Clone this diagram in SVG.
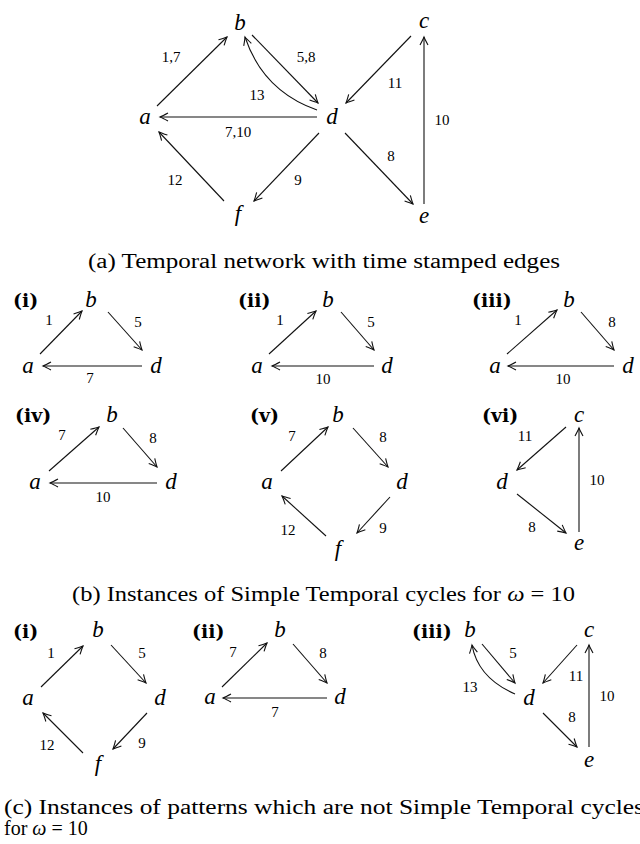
<svg xmlns="http://www.w3.org/2000/svg" width="640" height="844" viewBox="0 0 640 844">
<style>
.n{font-family:"Liberation Serif",serif;font-style:italic;font-size:23px;text-anchor:middle;fill:#000}
.l{font-family:"Liberation Serif",serif;font-size:15px;text-anchor:middle;fill:#000}
.t{font-family:"DejaVu Serif","Liberation Serif",serif;font-weight:bold;font-size:19px;fill:#000}
.c{font-family:"Liberation Serif",serif;font-size:20px;fill:#000}
.e{fill:none;stroke:#111;stroke-width:1.1;marker-end:url(#arr)}
</style>
<defs>
<marker id="arr" viewBox="-10 -6 12 12" refX="0" refY="0" markerWidth="12" markerHeight="12" orient="auto" markerUnits="userSpaceOnUse">
<path d="M-8,-4 Q-2.5,-1 0,0 Q-2.5,1 -8,4" fill="none" stroke="#111" stroke-width="1.1"/>
</marker>
</defs>
<rect width="640" height="844" fill="#fff"/>

<g id="connectors">
<!-- (a) -->
<path class="e" d="M157,106 L227,37"/>
<path class="e" d="M252,35 L318,103"/>
<path class="e" d="M317,110 Q263,91 245,37"/>
<path class="e" d="M317,117 L160,117"/>
<path class="e" d="M319,133 L254,201"/>
<path class="e" d="M224,201 L159,132"/>
<path class="e" d="M411,36 L346,103"/>
<path class="e" d="M345,133 L413,204"/>
<path class="e" d="M424,204 L424,37"/>
<!-- (b)(i) -->
<path class="e" d="M40,354 L82,311"/>
<path class="e" d="M108,312 L142,350"/>
<path class="e" d="M142,366 L43,366"/>
<!-- (b)(ii) -->
<path class="e" d="M269,354 L316,311"/>
<path class="e" d="M341,312 L374,350"/>
<path class="e" d="M374,366 L272,366"/>
<!-- (b)(iii) -->
<path class="e" d="M507,354 L557,310"/>
<path class="e" d="M581,312 L614,350"/>
<path class="e" d="M614,366 L508,366"/>
<!-- (b)(iv) -->
<path class="e" d="M49,471 L99,427"/>
<path class="e" d="M123,428 L157,467"/>
<path class="e" d="M157,483 L50,483"/>
<!-- (b)(v) -->
<path class="e" d="M281,471 L328,427"/>
<path class="e" d="M353,428 L388,467"/>
<path class="e" d="M390,497 L357,533"/>
<path class="e" d="M326,536 L282,496"/>
<!-- (b)(vi) -->
<path class="e" d="M566,427 L517,470"/>
<path class="e" d="M517,494 L566,533"/>
<path class="e" d="M579,532 L579,428"/>
<!-- (c)(i) -->
<path class="e" d="M41,687 L83,646"/>
<path class="e" d="M111,645 L146,683"/>
<path class="e" d="M147,713 L113,749"/>
<path class="e" d="M83,753 L43,713"/>
<!-- (c)(ii) -->
<path class="e" d="M222,687 L267,643"/>
<path class="e" d="M293,644 L327,683"/>
<path class="e" d="M327,698 L223,698"/>
<!-- (c)(iii) -->
<path class="e" d="M482,644 L515,683"/>
<path class="e" d="M515,694 Q478,678 472,645"/>
<path class="e" d="M577,645 L543,683"/>
<path class="e" d="M543,713 L577,747"/>
<path class="e" d="M589,747 L589,645"/>
</g>

<g id="edge-labels">
<text class="l" x="171" y="62">1,7</text>
<text class="l" x="306" y="62">5,8</text>
<text class="l" x="257" y="100">13</text>
<text class="l" x="238" y="137">7,10</text>
<text class="l" x="298" y="185">9</text>
<text class="l" x="175" y="185">12</text>
<text class="l" x="395" y="88">11</text>
<text class="l" x="391" y="161">8</text>
<text class="l" x="442" y="125">10</text>

<text class="l" x="49" y="325">1</text>
<text class="l" x="138" y="327">5</text>
<text class="l" x="90" y="383">7</text>
<text class="l" x="280" y="325">1</text>
<text class="l" x="371" y="327">5</text>
<text class="l" x="323" y="384">10</text>
<text class="l" x="518" y="325">1</text>
<text class="l" x="612" y="327">8</text>
<text class="l" x="563" y="384">10</text>

<text class="l" x="62" y="440">7</text>
<text class="l" x="153" y="443">8</text>
<text class="l" x="103" y="502">10</text>
<text class="l" x="292" y="441">7</text>
<text class="l" x="383" y="442">8</text>
<text class="l" x="288" y="535">12</text>
<text class="l" x="383" y="533">9</text>
<text class="l" x="525" y="441">11</text>
<text class="l" x="597" y="485">10</text>
<text class="l" x="532" y="532">8</text>

<text class="l" x="51" y="658">1</text>
<text class="l" x="142" y="658">5</text>
<text class="l" x="47" y="750">12</text>
<text class="l" x="142" y="748">9</text>
<text class="l" x="233" y="657">7</text>
<text class="l" x="323" y="658">8</text>
<text class="l" x="275" y="717">7</text>
<text class="l" x="513" y="658">5</text>
<text class="l" x="470" y="692">13</text>
<text class="l" x="576" y="681">11</text>
<text class="l" x="607" y="701">10</text>
<text class="l" x="572" y="722">8</text>
</g>

<!-- (a) nodes -->
<g id="a-a"><text class="n" x="145" y="124">a</text></g>
<g id="a-b"><text class="n" x="240" y="30">b</text></g>
<g id="a-c"><text class="n" x="424" y="28">c</text></g>
<g id="a-d"><text class="n" x="332" y="124">d</text></g>
<g id="a-e"><text class="n" x="424" y="223">e</text></g>
<g id="a-f"><text class="n" x="238" y="221">f</text></g>

<!-- (b)(i) -->
<g id="bi-tag"><text class="t" x="13" y="307">(i)</text></g>
<g id="bi-a"><text class="n" x="28" y="373">a</text></g>
<g id="bi-b"><text class="n" x="91" y="307">b</text></g>
<g id="bi-d"><text class="n" x="156" y="373">d</text></g>
<!-- (b)(ii) -->
<g id="bii-tag"><text class="t" x="238" y="307">(ii)</text></g>
<g id="bii-a"><text class="n" x="257" y="373">a</text></g>
<g id="bii-b"><text class="n" x="328" y="307">b</text></g>
<g id="bii-d"><text class="n" x="387" y="373">d</text></g>
<!-- (b)(iii) -->
<g id="biii-tag"><text class="t" x="472" y="307">(iii)</text></g>
<g id="biii-a"><text class="n" x="495" y="373">a</text></g>
<g id="biii-b"><text class="n" x="569" y="307">b</text></g>
<g id="biii-d"><text class="n" x="628" y="373">d</text></g>
<!-- (b)(iv) -->
<g id="biv-tag"><text class="t" x="15" y="422">(iv)</text></g>
<g id="biv-a"><text class="n" x="35" y="489">a</text></g>
<g id="biv-b"><text class="n" x="112" y="422">b</text></g>
<g id="biv-d"><text class="n" x="171" y="489">d</text></g>
<!-- (b)(v) -->
<g id="bv-tag"><text class="t" x="250" y="422">(v)</text></g>
<g id="bv-a"><text class="n" x="267" y="489">a</text></g>
<g id="bv-b"><text class="n" x="338" y="422">b</text></g>
<g id="bv-d"><text class="n" x="402" y="489">d</text></g>
<g id="bv-f"><text class="n" x="338" y="556">f</text></g>
<!-- (b)(vi) -->
<g id="bvi-tag"><text class="t" x="482" y="422">(vi)</text></g>
<g id="bvi-c"><text class="n" x="579" y="422">c</text></g>
<g id="bvi-d"><text class="n" x="502" y="489">d</text></g>
<g id="bvi-e"><text class="n" x="579" y="550">e</text></g>

<!-- (c)(i) -->
<g id="ci-tag"><text class="t" x="13" y="638">(i)</text></g>
<g id="ci-a"><text class="n" x="28" y="705">a</text></g>
<g id="ci-b"><text class="n" x="98" y="637">b</text></g>
<g id="ci-d"><text class="n" x="160" y="705">d</text></g>
<g id="ci-f"><text class="n" x="98" y="771">f</text></g>
<!-- (c)(ii) -->
<g id="cii-tag"><text class="t" x="192" y="638">(ii)</text></g>
<g id="cii-a"><text class="n" x="210" y="704">a</text></g>
<g id="cii-b"><text class="n" x="280" y="637">b</text></g>
<g id="cii-d"><text class="n" x="340" y="704">d</text></g>
<!-- (c)(iii) -->
<g id="ciii-tag"><text class="t" x="412" y="638">(iii)</text></g>
<g id="ciii-b"><text class="n" x="470" y="637">b</text></g>
<g id="ciii-c"><text class="n" x="589" y="637">c</text></g>
<g id="ciii-d"><text class="n" x="529" y="705">d</text></g>
<g id="ciii-e"><text class="n" x="589" y="767">e</text></g>

<g id="captions">
<text class="c" x="88" y="268" textLength="472" lengthAdjust="spacingAndGlyphs">(a) Temporal network with time stamped edges</text>
<text class="c" x="72" y="601" textLength="503" lengthAdjust="spacingAndGlyphs">(b) Instances of Simple Temporal cycles for <tspan font-style="italic">ω</tspan> = 10</text>
<text class="c" x="4" y="814" textLength="640" lengthAdjust="spacingAndGlyphs">(c) Instances of patterns which are not Simple Temporal cycles</text>
<text class="c" x="4" y="835">for <tspan font-style="italic">ω</tspan> = 10</text>
</g>
</svg>
